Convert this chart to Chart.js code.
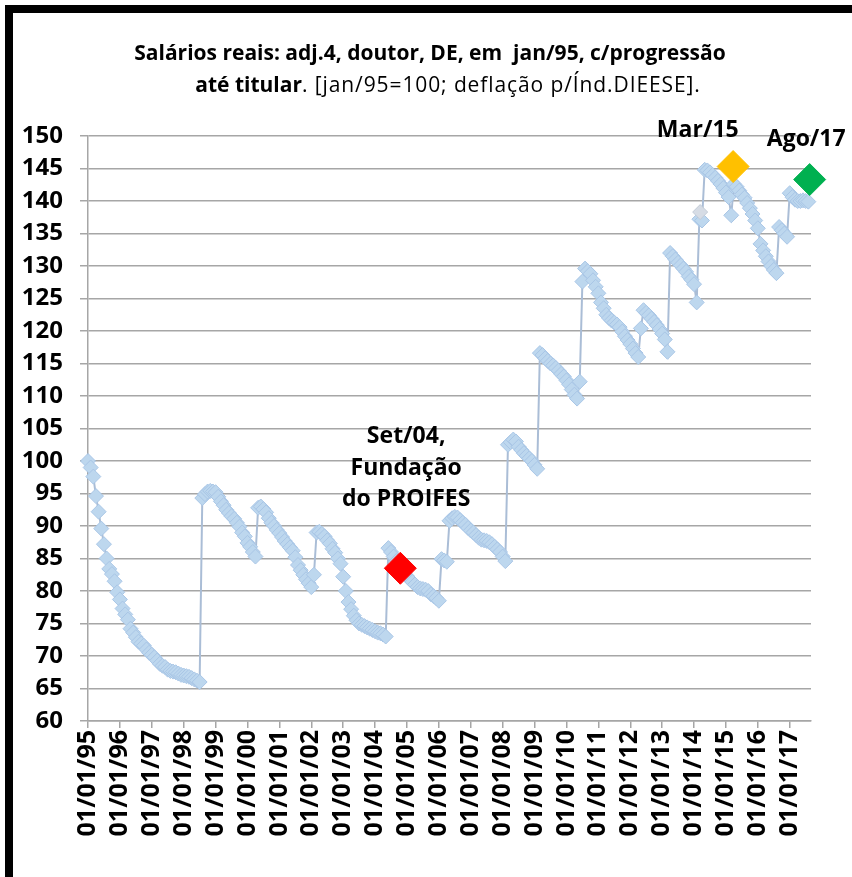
<!DOCTYPE html>
<html>
<head>
<meta charset="utf-8">
<script src="https://cdn.jsdelivr.net/npm/chart.js@4.4.1/dist/chart.umd.min.js"></script>
<style>
html,body{margin:0;padding:0;background:#fff;}
#wrap{position:relative;width:852px;height:877px;overflow:hidden;}
#frame{position:absolute;left:5px;top:5px;width:900px;height:900px;border-left:8px solid #000;border-top:8px solid #000;}
canvas{position:absolute;left:0;top:0;}
.tit{position:absolute;width:700px;text-align:center;white-space:pre;color:#000;
  font-family:'Open Sans',sans-serif;font-size:21px;line-height:24px;}
.tit span{letter-spacing:0.9px;}
</style>
</head>
<body>
<div id="wrap">
  <div id="frame"></div>
  <canvas id="grafico" width="852" height="877"></canvas>
  <div class="tit" style="left:80px;top:40px"><b>Salários reais: adj.4, doutor, DE, em  jan/95, c/progressão</b></div>
  <div class="tit" style="left:98px;top:72px"><b>até titular</b><span>. [jan/95=100; deflação p/Índ.DIEESE].</span></div>
</div>
<script>
// rótulos do eixo x (um por ano, a partir de jan/95)
const rotulosAnos = ['01/01/95','01/01/96','01/01/97','01/01/98','01/01/99','01/01/00','01/01/01','01/01/02',
  '01/01/03','01/01/04','01/01/05','01/01/06','01/01/07','01/01/08','01/01/09','01/01/10','01/01/11',
  '01/01/12','01/01/13','01/01/14','01/01/15','01/01/16','01/01/17'];

// índice mensal jan/95 .. ago/17 (jan/95 = 100)
const salarios = [
  100.0, 99.0, 97.6, 94.6, 92.2, 89.6, 87.2, 85.0, 83.4, 82.6,
  81.5, 79.8, 78.7, 77.3, 76.4, 75.6, 74.2, 73.6, 72.9, 72.2,
  71.9, 71.6, 71.0, 70.5, 70.2, 69.8, 69.3, 68.8, 68.5, 68.3,
  67.9, 67.7, 67.6, 67.5, 67.3, 67.1, 67.0, 66.9, 66.8, 66.6,
  66.4, 66.2, 66.0,
  94.3, 94.9, 95.3, 95.4, 95.3, 95.2, 94.5,
  93.8, 93.2, 92.5, 92.0, 91.5, 91.1, 90.5, 89.9, 89.0, 88.4,
  87.4, 86.8, 86.0, 85.3,
  92.8, 93.0, 92.6, 92.1, 91.2, 90.5,
  90.0, 89.4, 88.9, 88.3, 87.7, 87.2, 86.7, 86.2, 85.2, 84.0,
  83.2, 82.5, 81.8, 81.2, 80.6, 82.5,
  89.0, 89.1, 88.8, 88.4,
  87.8, 87.3, 86.5, 85.9, 85.0, 84.2, 82.2, 80.0, 78.3, 77.2,
  76.2, 75.5, 75.0, 74.8, 74.6, 74.4, 74.2, 74.0, 73.8, 73.6,
  73.5, 73.3, 73.0,
  86.6, 86.0, 85.3, 84.6, 84.0, 83.4, 82.8,
  82.3, 81.8, 81.4, 81.0, 80.6, 80.4, 80.3, 80.2, 80.0, 79.5,
  79.2, 78.9, 78.5,
  84.9, 84.7, 84.5, 90.8, 91.2, 91.4, 91.3,
  90.9, 90.5, 90.2, 89.7, 89.3, 89.0, 88.6, 88.2, 87.9, 87.8,
  87.7, 87.5, 87.2, 86.8, 86.4, 86.0, 85.3, 84.6,
  102.5, 102.9,
  103.3, 103.0, 102.2, 101.7, 101.2, 100.8, 100.4, 100.0, 99.4, 98.8,
  116.6, 116.3, 115.8, 115.4, 115.0, 114.7, 114.3, 113.9, 113.4, 113.0,
  112.4, 111.8, 111.0, 110.2, 109.6, 112.2,
  127.6, 129.6, 129.2, 128.8,
  127.8, 126.8, 125.8, 124.4, 123.5, 122.5, 122.0, 121.6, 121.3, 121.0,
  120.6, 119.9, 119.2, 118.6, 118.0, 117.3, 116.6, 116.0, 120.4, 123.2,
  122.8, 122.4, 121.9, 121.4, 120.9, 120.3, 119.6, 118.7, 116.8, 132.0,
  131.5, 131.0, 130.5, 130.1, 129.6, 129.1, 128.4, 127.9, 127.2, 124.4,
  137.2, 137.0,
  144.8, 144.7, 144.4, 144.0, 143.6, 143.1, 142.6, 142.0,
  141.3, 140.6, 137.8, 142.6, 142.2, 141.6, 141.0, 140.5, 139.7, 138.9,
  138.0, 137.0, 135.8, 133.4, 132.4, 131.5, 130.7, 130.0, 129.4, 128.9,
  136.0, 135.5, 135.0, 134.5, 141.2, 140.6, 140.2, 140.0, 140.0, 140.1,
  140.0, 139.9
];

// pontos destacados: meses desde jan/95 e valores
const destaqueMes = [117.5, 242.7, 271.5, 230.3];
const destaqueValor = [83.5, 145.3, 143.3, 138.3];
const destaqueCor = ['#ff0000', '#ffc000', '#00b050', '#d6dce5'];

const notas = [
  {linhas: ['Set/04,', 'Fundação', 'do PROIFES'], m: 119.7, v: 103.7},
  {linhas: ['Mar/15'], m: 229.4, v: 150.9},
  {linhas: ['Ago/17'], m: 270.2, v: 149.4}
];

const notasPlugin = {
  id: 'notas',
  afterDatasetsDraw(chart) {
    const {ctx, scales: {x, y}} = chart;
    ctx.save();
    ctx.fillStyle = '#000';
    ctx.font = 'bold 23px "Open Sans"';
    ctx.textAlign = 'center';
    ctx.textBaseline = 'middle';
    notas.forEach(n => {
      const px = x.getPixelForValue(n.m), py = y.getPixelForValue(n.v);
      n.linhas.forEach((l, i) => ctx.fillText(l, px, py + i * 31.5));
    });
    ctx.restore();
  }
};

const destaques = destaqueMes.map((m, i) => ({
  data: [{x: m, y: destaqueValor[i]}],
  showLine: false,
  pointStyle: 'rectRot',
  pointRadius: i < 3 ? 16 : 7.5,
  pointBackgroundColor: destaqueCor[i],
  pointBorderColor: i < 3 ? destaqueCor[i] : '#c3cbd6',
  pointBorderWidth: 1,
  clip: false,
  order: 0
}));

const cinza = '#a6a6a6';
new Chart(document.getElementById('grafico'), {
  type: 'line',
  data: {
    datasets: [{
      data: salarios.map((v, i) => ({x: i, y: v})),
      borderColor: '#aabdd6',
      borderWidth: 2,
      pointStyle: 'rectRot',
      pointRadius: 7.5,
      pointBackgroundColor: '#bdd7ee',
      pointBorderColor: '#a9c6e6',
      pointBorderWidth: 1,
      tension: 0,
      clip: false,
      order: 1
    }, ...destaques]
  },
  options: {
    responsive: false,
    animation: false,
    layout: {padding: {top: 136, right: 41, left: 0, bottom: 0}},
    plugins: {legend: {display: false}, tooltip: {enabled: false}},
    scales: {
      x: {
        type: 'linear', min: 0, max: 272,
        afterFit: s => { s.height = 156; },
        grid: {drawOnChartArea: false, drawTicks: true, tickLength: 7, color: cinza, lineWidth: 1.5},
        border: {color: cinza, width: 1.5},
        ticks: {
          stepSize: 12, includeBounds: false, autoSkip: false, maxRotation: 90, minRotation: 90, padding: 2,
          color: '#000', font: {family: 'Open Sans', weight: 'bold', size: 25},
          callback: v => rotulosAnos[v / 12] ?? ''
        }
      },
      y: {
        min: 60, max: 150,
        afterFit: s => { s.width = 88; },
        grid: {color: cinza, lineWidth: 1.5, tickLength: 8},
        border: {color: cinza, width: 1.5},
        ticks: {stepSize: 5, padding: 17, color: '#000', font: {family: 'Open Sans', weight: 'bold', size: 24}}
      }
    }
  },
  plugins: [notasPlugin]
});
</script>
</body>
</html>
